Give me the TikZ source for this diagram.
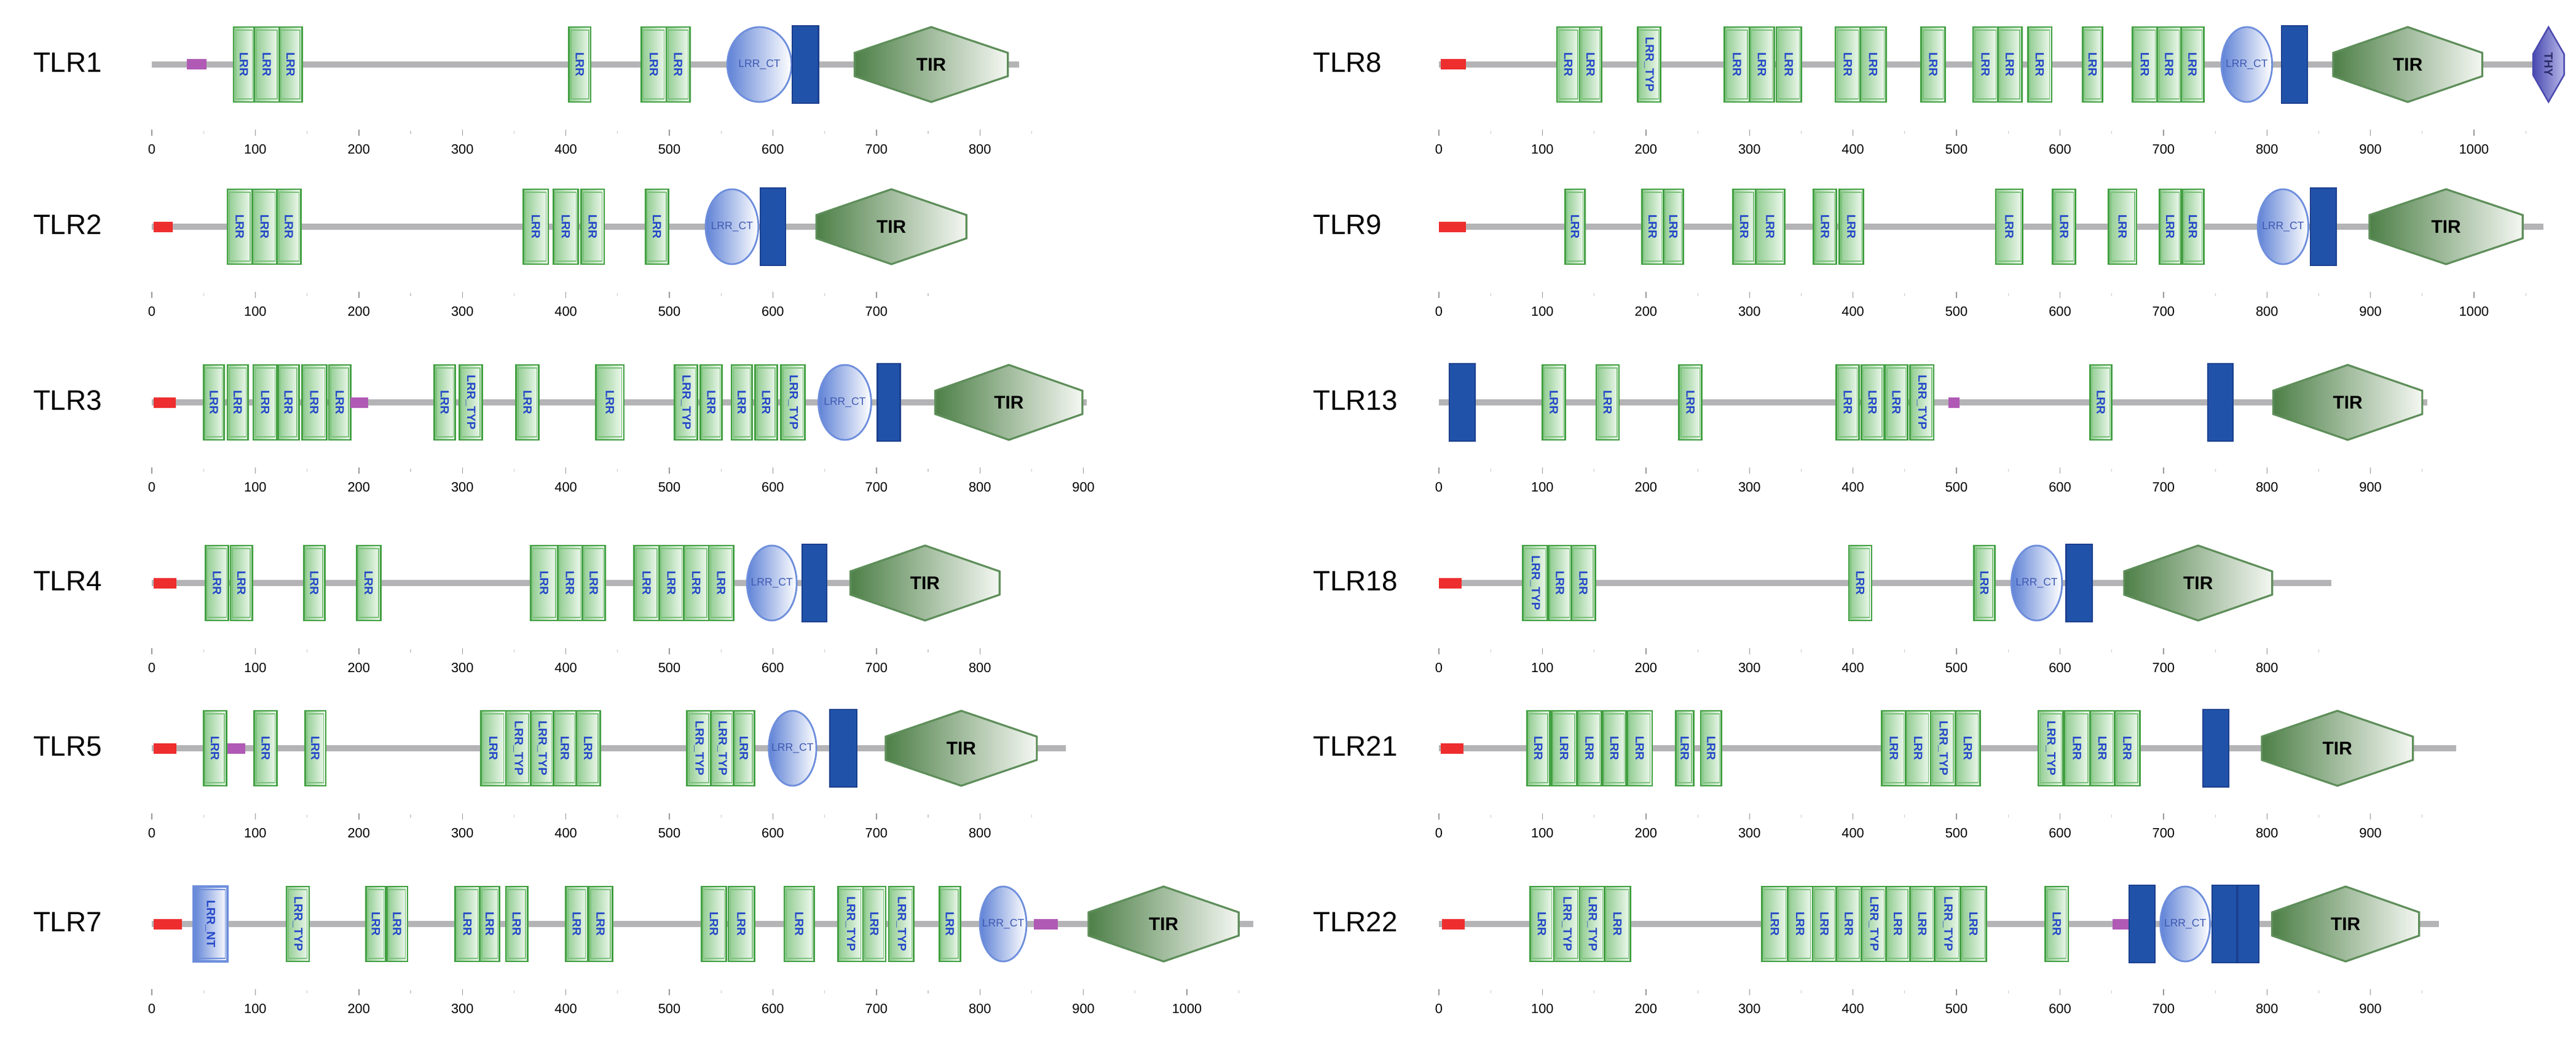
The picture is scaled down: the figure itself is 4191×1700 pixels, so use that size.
\documentclass[tikz,border=0pt]{standalone}
\usepackage{fontspec}
\setmainfont{Liberation Sans}
\definecolor{lrrg}{HTML}{43A043}
\definecolor{lrrin}{HTML}{7CC27C}
\definecolor{lrrdk}{HTML}{8FCB8F}
\definecolor{lrrlt}{HTML}{F2FAF2}
\definecolor{lrrtx}{HTML}{2448C8}
\definecolor{ctb}{HTML}{5F82D6}
\definecolor{ctd}{HTML}{6E8EDC}
\definecolor{tmb}{HTML}{2152AA}
\definecolor{tmd}{HTML}{1B408E}
\definecolor{tird}{HTML}{4E8048}
\definecolor{tirl}{HTML}{F4F7F2}
\definecolor{tirb}{HTML}{5E8E5A}
\definecolor{gline}{HTML}{B4B4B6}
\definecolor{sig}{HTML}{EE2E2E}
\definecolor{pur}{HTML}{B05AB5}
\definecolor{thyd}{HTML}{4A4AB0}
\definecolor{thyl}{HTML}{B8B8EA}
\tikzset{
 lrrbox/.style={draw=lrrg,line width=0.8pt,left color=lrrdk,right color=lrrlt},
 lrrinner/.style={draw=lrrin,line width=0.4pt},
 lrrtxt/.style={font=\fontsize{5.5}{6}\selectfont\bfseries,text=lrrtx,rotate=-90,inner sep=0pt},
 ntbox/.style={draw=ctd,line width=0.9pt,left color=ctb,right color=white},
 ctst/.style={draw=ctd,line width=0.8pt,left color=ctb,right color=white},
 cttxt/.style={font=\fontsize{5}{5}\selectfont,text=lrrtx!70!gray,inner sep=0pt},
 tmst/.style={draw=tmd,line width=0.6pt,fill=tmb},
 tirst/.style={draw=tirb,line width=0.9pt,left color=tird,right color=tirl},
 tirtxt/.style={font=\fontsize{8.5}{9}\selectfont\bfseries,inner sep=0pt},
 thyst/.style={draw=thyd,line width=0.7pt,left color=thyd,right color=thyl},
 glinest/.style={draw=gline,line width=2.9pt},
 sigst/.style={fill=sig},
 purst/.style={fill=pur},
 majtick/.style={draw=gray!80,line width=0.4pt},
 mintick/.style={draw=gray!40,line width=0.3pt},
 ticklbl/.style={font=\fontsize{6.2}{7}\selectfont,inner sep=0pt},
 tlrlbl/.style={font=\fontsize{13}{14}\selectfont,anchor=west,inner sep=0pt},
}
\newcommand\Lrr[3]{\path[lrrbox] (#1,-61) rectangle (#2,61);
 \draw[lrrinner] ({#1+1.9},-56) rectangle ({#2-1.9},56);
 \node[lrrtxt] at ({(#1+#2)/2},0) {#3};}
\newcommand\Lr[2]{\Lrr{#1}{#2}{LRR}}
\newcommand\Lt[2]{\Lrr{#1}{#2}{LRR\_TYP}}
\newcommand\Ct[2]{\path[ctst] ({(#1+#2)/2},0) ellipse [x radius={(#2-#1)/2}, y radius=61];
 \node[cttxt] at ({(#1+#2)/2},0) {LRR\_CT};}
\newcommand\Tm[2]{\path[tmst] (#1,-63) rectangle (#2,63);}
\newcommand\Tir[2]{\path[tirst] (#1,-19) -- ({(#1+#2)/2},-61) -- (#2,-19) -- (#2,19) -- ({(#1+#2)/2},61) -- (#1,19) -- cycle;
 \node[tirtxt] at ({(#1+#2)/2},0) {TIR};}
\newcommand\Sig[2]{\path[sigst] (#1,-8.5) rectangle (#2,8.5);}
\newcommand\Pur[2]{\path[purst] (#1,-8.5) rectangle (#2,8.5);}
\newcommand\Axis[3]{% length, last major, last minor
 \draw[glinest] (0,0) -- (#1,0);
 \foreach \t in {0,100,...,#2} {\draw[majtick] (\t,106) -- (\t,116); \node[ticklbl] at (\t,138) {\t};}
 \foreach \t in {50,150,...,#3} {\draw[mintick] (\t,108) -- (\t,113);}}
\newcommand\Row[4]{% x0 y label-offset label
 \begin{scope}[shift={(#1,#2)},x=0.01683cm,y=-0.01cm]
 \node[tlrlbl] at (#3,-3) {#4};}
\newcommand\EndRow{\end{scope}}
\begin{document}
\begin{tikzpicture}[x=0.01cm,y=-0.01cm]
\useasboundingbox[fill=white] (0,0) rectangle (4191,1700);
% ---------- TLR1
\Row{247}{105}{-115}{TLR1}
\Axis{838}{800}{850}
\Pur{34}{53}
\Lr{79}{99}\Lr{99}{123}\Lr{123}{145}\Lr{403}{424}\Lr{473}{497}\Lr{497}{520}
\Ct{556}{618}\Tm{619}{644}\Tir{679}{827}
\EndRow
% ---------- TLR2
\Row{247}{369}{-115}{TLR2}
\Axis{785}{700}{750}
\Sig{2}{20}
\Lr{73}{97}\Lr{97}{121}\Lr{121}{144}\Lr{359}{383}\Lr{388}{412}\Lr{415}{437}\Lr{477}{499}
\Ct{535}{586}\Tm{588}{612}\Tir{642}{787}
\EndRow
% ---------- TLR3
\Row{247}{655}{-115}{TLR3}
\Axis{903}{900}{850}
\Sig{2}{23}
\Lr{50}{70}\Lr{73}{93}\Lr{98}{121}\Lr{122}{142}\Lr{145}{169}\Lr{171}{192}
\Pur{192}{209}
\Lr{273}{293}\Lt{297}{319}\Lr{352}{374}\Lr{429}{456}
\Lt{505}{527}\Lr{530}{551}\Lr{560}{580}\Lr{583}{604}\Lt{608}{631}
\Ct{644}{695}\Tm{701}{723}\Tir{757}{899}
\EndRow
% ---------- TLR4
\Row{247}{949}{-115}{TLR4}
\Axis{819}{800}{750}
\Sig{2}{24}
\Lr{52}{74}\Lr{76}{97}\Lr{147}{167}\Lr{198}{221}
\Lr{366}{392}\Lr{392}{416}\Lr{416}{438}
\Lr{466}{490}\Lr{490}{514}\Lr{514}{538}\Lr{538}{562}
\Ct{575}{623}\Tm{628}{652}\Tir{675}{819}
\EndRow
% ---------- TLR5
\Row{247}{1218}{-115}{TLR5}
\Axis{883}{800}{850}
\Sig{2}{24}
\Lr{50}{72}\Pur{73}{90}\Lr{99}{121}\Lr{148}{168}
\Lr{318}{342}\Lt{342}{366}\Lt{366}{388}\Lr{388}{410}\Lr{410}{433}
\Lt{517}{540}\Lt{540}{562}\Lr{562}{582}
\Ct{596}{642}\Tm{655}{681}\Tir{709}{855}
\EndRow
% ---------- TLR7
\Row{247}{1504}{-115}{TLR7}
\Axis{1064}{1000}{1050}
\Sig{2}{29}
\path[ntbox] (40,-61) rectangle (73,61);
\draw[draw=ctd,line width=0.4pt] (42,-56) rectangle (71,56);
\node[lrrtxt] at (56.5,0) {LRR\_NT};
\Lt{130}{152}\Lr{207}{226}\Lr{227}{247}
\Lr{293}{317}\Lr{317}{336}\Lr{342}{363}\Lr{400}{421}\Lr{422}{445}
\Lr{531}{555}\Lr{557}{582}\Lr{611}{640}
\Lt{663}{687}\Lr{687}{709}\Lt{712}{736}\Lr{761}{781}
\Ct{800}{845}\Pur{852}{875}\Tir{905}{1050}
\EndRow
% ---------- TLR8
\Row{2341}{105}{-122}{TLR8}
\Axis{1080}{1000}{1050}
\Sig{2}{26}
\Lr{114}{136}\Lr{136}{157}\Lt{192}{214}
\Lr{276}{300}\Lr{300}{324}\Lr{326}{350}\Lr{383}{407}\Lr{407}{432}
\Lr{466}{489}\Lr{516}{540}\Lr{540}{563}\Lr{569}{592}\Lr{622}{641}
\Lr{670}{694}\Lr{694}{717}\Lr{717}{739}
\Ct{756}{805}\Tm{814}{839}\Tir{864}{1008}
\path[thyst] (1057,-17) -- (1072,-61) -- (1087,-17) -- (1087,17) -- (1072,61) -- (1057,17) -- cycle;
\node[lrrtxt,text=thyd!60!black] at (1072,0) {THY};
\EndRow
% ---------- TLR9
\Row{2341}{369}{-122}{TLR9}
\Axis{1067}{1000}{1050}
\Sig{0}{26}
\Lr{122}{141}\Lr{196}{217}\Lr{217}{236}\Lr{284}{306}\Lr{306}{334}
\Lr{362}{384}\Lr{387}{410}\Lr{538}{564}\Lr{593}{615}\Lr{647}{674}
\Lr{696}{717}\Lr{718}{739}
\Ct{791}{840}\Tm{842}{867}\Tir{899}{1047}
\EndRow
% ---------- TLR13
\Row{2341}{655}{-122}{TLR13}
\Axis{955}{900}{950}
\Tm{10}{35}
\Lr{100}{122}\Lr{152}{174}\Lr{232}{254}
\Lr{384}{406}\Lr{408}{430}\Lr{431}{453}\Lt{455}{478}
\Pur{492}{503}
\Lr{629}{650}\Tm{743}{767}\Tir{806}{950}
\EndRow
% ---------- TLR18
\Row{2341}{949}{-122}{TLR18}
\Axis{862}{800}{850}
\Sig{0}{22}
\Lt{81}{105}\Lr{106}{128}\Lr{128}{151}\Lr{396}{418}\Lr{517}{537}
\Ct{553}{602}\Tm{606}{631}\Tir{662}{805}
\EndRow
% ---------- TLR21
\Row{2341}{1218}{-122}{TLR21}
\Axis{983}{900}{950}
\Sig{2}{24}
\Lr{85}{107}\Lr{109}{133}\Lr{134}{157}\Lr{158}{181}\Lr{182}{206}
\Lr{229}{246}\Lr{253}{273}
\Lr{428}{451}\Lr{451}{475}\Lt{475}{499}\Lr{499}{523}
\Lt{579}{603}\Lr{604}{629}\Lr{629}{653}\Lr{653}{677}
\Tm{738}{763}\Tir{795}{941}
\EndRow
% ---------- TLR22
\Row{2341}{1504}{-122}{TLR22}
\Axis{966}{900}{950}
\Sig{3}{25}
\Lr{88}{111}\Lt{111}{136}\Lt{136}{160}\Lr{160}{185}
\Lr{312}{337}\Lr{337}{361}\Lr{361}{384}\Lr{384}{408}\Lt{408}{432}
\Lr{432}{455}\Lr{455}{479}\Lt{479}{504}\Lr{504}{529}
\Lr{586}{608}\Pur{651}{667}\Tm{667}{692}\Ct{697}{745}\Tm{747}{771}\Tm{772}{792}
\Tir{805}{947}
\EndRow
\end{tikzpicture}
\end{document}
